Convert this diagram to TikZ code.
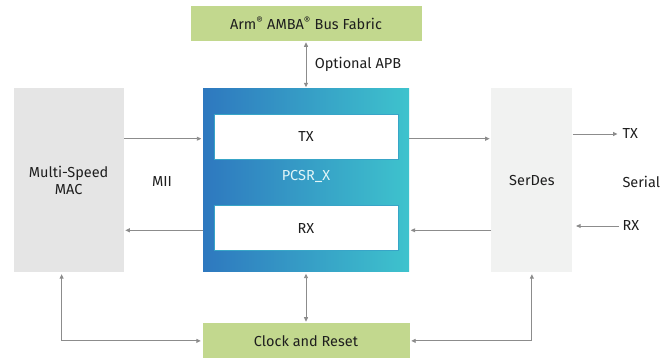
\documentclass[tikz,border=0pt]{standalone}
\usepackage{fontspec}
\setmainfont{Fira Sans}
\usepackage{tikz}
\usetikzlibrary{arrows.meta,positioning}

\definecolor{busgreen}{HTML}{C2D88E}
\definecolor{macgray}{HTML}{E5E5E5}
\definecolor{serdesgray}{HTML}{F1F2F1}
\definecolor{pcsrleft}{HTML}{2E78BF}
\definecolor{pcsrright}{HTML}{3EC3CD}
\definecolor{linegray}{HTML}{8C8C8C}
\definecolor{txtdark}{HTML}{1E1E1E}

\begin{document}
\begin{tikzpicture}[
  x=1pt, y=-1pt,
  font=\fontsize{14.5}{17}\selectfont, text=txtdark,
  block/.style={rectangle, align=center, inner sep=0pt},
  greenbox/.style={block, fill=busgreen, minimum height=35pt},
  sidebox/.style={block, minimum height=184pt},
  inbox/.style={block, fill=white, draw=pcsrright!60!pcsrleft, line width=0.8pt,
    minimum width=184pt, minimum height=45pt},
  arrow/.style={-{Triangle[length=4.5pt,width=4pt]}, draw=linegray, line width=0.9pt,
    shorten >=1.5pt},
  twoway/.style={arrow, {Triangle[length=4.5pt,width=4pt]}-{Triangle[length=4.5pt,width=4pt]},
    shorten <=1.5pt}
]
  \useasboundingbox (0,0) rectangle (667,358);

  \node[block, minimum width=206pt, minimum height=183pt,
    left color=pcsrleft, right color=pcsrright] (pcsr) at (306,180.5) {};
  \node[text=white!85!pcsrright, yshift=4pt] (pcsrlabel) at (pcsr) {PCSR\_X};
  \node[inbox, below=25pt of pcsr.north] (txbox) {TX};
  \node[inbox, above=21pt of pcsr.south] (rxbox) {RX};

  \node[sidebox, fill=macgray, minimum width=110pt, left=79pt of pcsr] (mac) {Multi-Speed\\MAC};
  \node[sidebox, fill=serdesgray, minimum width=81pt, right=82pt of pcsr] (serdes) {SerDes};
  \node[greenbox, minimum width=231pt, above=48pt of pcsr] (bus) {Arm\textsuperscript{\textregistered} AMBA\textsuperscript{\textregistered} Bus Fabric};
  \node[greenbox, minimum width=207pt, below=51pt of pcsr] (clock) {Clock and Reset};

  \node (mii) at (162,182) {MII};
  \node[anchor=west] (txout) at (619,134) {TX};
  \node[anchor=west] (serial) at (619,182) {Serial};
  \node[anchor=west] (rxin) at (619,226) {RX};

  % data path
  \draw[arrow] ([yshift=-2pt]txbox.center -| mac.east) -- ([yshift=-2pt]txbox.center -| pcsr.west);
  \draw[arrow] ([yshift=-2pt]txbox.center -| pcsr.east) -- ([yshift=-2pt]txbox.center -| serdes.west);
  \draw[arrow] ([yshift=-2pt]rxbox.center -| serdes.west) -- ([yshift=-2pt]rxbox.center -| pcsr.east);
  \draw[arrow] ([yshift=-2pt]rxbox.center -| pcsr.west) -- ([yshift=-2pt]rxbox.center -| mac.east);
  \draw[arrow] (txout.west -| serdes.east) -- (txout.west);
  \draw[arrow] (rxin.west) -- ([xshift=2pt]rxin.west -| serdes.east);

  % control
  \draw[twoway] (bus) -- node[right=5pt, anchor=west] (apb) {Optional APB} (pcsr);
  \draw[twoway] (pcsr) -- (clock);
  \draw[twoway] ([xshift=-7pt]mac.south) |- (clock.west);
  \draw[twoway] (serdes.south) |- (clock.east);
\end{tikzpicture}
\end{document}
